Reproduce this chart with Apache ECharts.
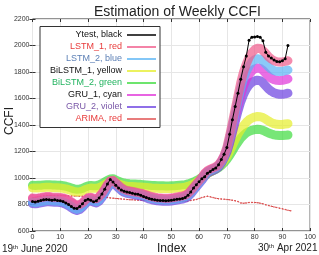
<!DOCTYPE html>
<html><head><meta charset="utf-8">
<script src="https://cdn.jsdelivr.net/npm/echarts@6/dist/echarts.min.js"></script>
<style>html,body{margin:0;padding:0;background:#fff}#c{width:319px;height:255px}</style>
</head><body><div id="c"></div>
<script>
const xTicks = [0,10,20,30,40,50,60,70,80,90,100];
const yTicks = [600,800,1000,1200,1400,1600,1800,2000,2200];

const ytest = [822,818,825,830,835,838,836,832,835,830,
828,822,812,800,785,772,770,785,805,830,
840,832,820,828,850,880,915,955,988,970,
945,925,910,900,895,890,885,880,878,870,
860,852,845,840,835,832,830,830,828,830,
832,835,840,842,845,852,870,895,925,950,
972,995,1010,1035,1050,1065,1075,1100,1140,1180,
1230,1330,1440,1540,1640,1745,1840,1920,2040,2062,
2065,2068,2062,2035,1950,1920,1905,1890,1880,1878,
1885,1900,2000];

const lstm1 = [850,848,850,853,857,860,860,857,855,855,853,
850,843,833,820,806,796,800,813,834,852,
855,847,845,860,884,916,950,978,982,965,
945,927,914,906,902,898,894,890,886,880,
873,865,860,855,851,850,848,847,847,850,
853,857,861,865,871,883,905,930,955,980,
1005,1035,1055,1067,1075,1085,1100,1130,1170,
1230,1320,1420,1520,1620,1720,1800,1860,1910,1945,
1968,1980,1978,1962,1940,1915,1898,1885,1878,1875,
1876,1880,1885];

const lstm2 = [818,815,818,822,826,830,831,829,827,826,824,
820,812,800,786,772,765,772,790,815,832,
836,828,822,835,862,895,932,962,970,955,
935,915,902,894,890,886,882,878,874,868,
860,852,846,842,838,836,835,834,834,836,
839,843,847,851,857,869,890,916,942,967,
993,1022,1044,1057,1066,1076,1092,1120,1160,
1220,1300,1395,1490,1585,1675,1750,1805,1845,1875,
1892,1900,1897,1882,1860,1838,1822,1810,1805,1803,
1805,1810,1815];

const bilstm1 = [925,924,925,926,928,930,930,928,927,926,925,
922,918,912,905,898,895,896,902,912,920,
924,922,922,928,938,950,962,972,975,965,
955,948,942,938,936,935,934,933,932,930,
928,926,924,923,922,921,921,920,920,921,
922,924,926,928,931,937,945,955,968,982,
998,1015,1032,1045,1057,1070,1086,1105,1130,1160,
1200,1245,1290,1330,1365,1395,1420,1440,1452,1460,
1464,1463,1456,1444,1430,1418,1410,1405,1403,1404,
1407,1410];

const bilstm2 = [945,944,945,946,948,950,950,948,947,946,945,
942,938,932,925,918,915,916,922,932,940,
944,942,942,948,958,970,982,992,995,985,
975,968,962,958,956,955,954,953,952,950,
948,946,944,943,942,941,941,940,940,941,
942,944,946,948,950,955,962,970,980,992,
1005,1020,1035,1045,1055,1065,1078,1095,1115,1140,
1170,1205,1240,1270,1300,1322,1340,1352,1360,1365,
1368,1366,1360,1350,1340,1332,1326,1322,1320,1320,
1322,1325];

const gru1 = [845,842,845,848,852,855,855,852,850,850,848,
845,838,828,815,800,790,795,808,830,848,
850,842,840,855,880,912,948,975,978,960,
940,922,910,902,898,894,890,886,882,875,
868,860,855,850,846,845,843,842,842,845,
848,852,856,860,866,878,900,925,950,975,
1000,1030,1050,1062,1070,1080,1095,1125,1165,
1210,1285,1375,1465,1550,1630,1695,1745,1782,1808,
1823,1830,1827,1812,1790,1768,1752,1742,1737,1735,
1737,1742,1748];

const gru2 = [808,805,808,812,816,820,821,819,817,816,814,
810,802,790,776,762,755,762,780,805,822,
826,818,812,825,852,885,922,952,960,945,
925,905,892,884,880,876,872,868,864,858,
850,842,836,832,828,826,825,824,824,826,
829,833,837,841,847,859,880,906,932,957,
983,1012,1034,1047,1056,1066,1082,1110,1150,
1195,1265,1345,1425,1505,1575,1630,1672,1702,1722,
1733,1738,1735,1718,1695,1672,1655,1643,1636,1632,
1632,1635,1640];

const arima = [850,854,858,862,865,867,868,868,868,867,867,
866,866,865,865,864,864,863,863,862,862,
861,860,859,858,856,854,852,850,848,846,
844,842,840,838,836,835,834,833,832,831,
830,829,828,827,826,825,824,823,822,822,
821,821,822,823,825,827,830,834,838,845,
852,858,862,858,852,847,844,841,840,838,
835,832,828,822,812,810,812,815,816,815,
814,810,805,798,792,787,782,777,772,767,
762,756,752];

const names = ['Ytest, black','LSTM_1, red','LSTM_2, blue','BiLSTM_1, yellow','BiLSTM_2, green','GRU_1, cyan','GRU_2, violet','ARIMA, red'];
const legendTextColors = ['#111','#e83a3a','#5b7fb5','#111','#22b35f','#111','#7a58a8','#e83a3a'];

const toXY = a => a.map((v,i)=>[i,v]);
const band = (name, data, color, z, w) => ({
  name, type:'line', data: toXY(data), color, z,
  symbol:'none', smooth:false,
  lineStyle:{width:w, opacity:0.7, color, cap:'round', join:'round'}
});

const chart = echarts.init(document.getElementById('c'), null, {renderer:'canvas'});
const labelFont = {fontSize:7, color:'#333', fontFamily:'Liberation Sans, Arial, sans-serif'};
const plain = v => String(v);
chart.setOption({
  animation:false,
  backgroundColor:'#fff',
  title:{text:'Estimation of Weekly CCFI', left:172.5, textAlign:'center', top:0,
    textStyle:{fontSize:14, fontWeight:'normal', color:'#222', fontFamily:'Liberation Sans, Arial, sans-serif'}},
  grid:{left:32.5, right:6.5, top:19, bottom:24, show:true, borderColor:'#262626', borderWidth:1, backgroundColor:'#fff'},
  xAxis:[{type:'value', min:0, max:100, interval:10,
    axisLine:{show:false}, axisTick:{show:true, inside:true, length:3, lineStyle:{color:'#333'}},
    axisLabel:Object.assign({margin:3, formatter:plain}, labelFont),
    splitLine:{show:true, lineStyle:{color:'#e6e6e6', width:1}}},
    {type:'value', position:'top', min:0, max:100, interval:10,
    axisLine:{show:false}, axisTick:{show:true, inside:true, length:3, lineStyle:{color:'#333'}},
    axisLabel:{show:false}, splitLine:{show:false}}],
  yAxis:[{type:'value', min:600, max:2200, interval:200,
    axisLine:{show:false}, axisTick:{show:true, inside:true, length:3, lineStyle:{color:'#333'}},
    axisLabel:Object.assign({margin:3, formatter:plain}, labelFont),
    splitLine:{show:true, lineStyle:{color:'#e6e6e6', width:1}}},
    {type:'value', position:'right', min:600, max:2200, interval:200,
    axisLine:{show:false}, axisTick:{show:true, inside:true, length:3, lineStyle:{color:'#333'}},
    axisLabel:{show:false}, splitLine:{show:false}}],
  legend:{orient:'vertical', left:40, top:26.5, align:'right', itemWidth:29, itemHeight:1.5, itemGap:1,
    icon:'rect', backgroundColor:'#fff', borderColor:'#333', borderWidth:1, padding:[3,4,3,4], borderRadius:0,
    textStyle:{fontSize:9, width:78, lineHeight:11, fontFamily:'Liberation Sans, Arial, sans-serif'},
    data: names.map((n,i)=>({name:n, textStyle:{color:legendTextColors[i]}}))},
  graphic:[
    {type:'text', left:4, top:107, rotation:Math.PI/2, style:{text:'CCFI', fontSize:12, fill:'#222', fontFamily:'Liberation Sans, Arial, sans-serif'}},
    {type:'text', left:157, top:243, style:{text:'Index', fontSize:12, fill:'#222', fontFamily:'Liberation Sans, Arial, sans-serif'}},
    {type:'text', left:2, top:244, style:{rich:{a:{fontSize:10, fill:'#222'}, s:{fontSize:6, fill:'#222', padding:[0,0,5,0]}}, text:'{a|19}{s|th}{a| June 2020}', fontFamily:'Liberation Sans, Arial, sans-serif'}},
    {type:'text', left:258, top:243, style:{rich:{a:{fontSize:10, fill:'#222'}, s:{fontSize:6, fill:'#222', padding:[0,0,5,0]}}, text:'{a|30}{s|th}{a| Apr 2021}', fontFamily:'Liberation Sans, Arial, sans-serif'}}
  ],
  series:[
    {name:names[7], type:'line', data:toXY(arima), color:'#e05050', z:2, symbol:'circle', symbolSize:1.5,
      lineStyle:{width:1, type:[2,1.5], color:'#d04848'}},
    band(names[4], bilstm2, '#3ddc3d', 3, 9),
    band(names[3], bilstm1, '#e6ee2a', 3, 9),
    band(names[6], gru2, '#6a3fe0', 4, 9),
    band(names[5], gru1, '#e030d8', 4, 9),
    band(names[2], lstm2, '#5ab4f5', 4, 9),
    band(names[1], lstm1, '#f05a8a', 4, 9),
    {name:names[0], type:'line', data:toXY(ytest), color:'#000', z:10, symbol:'circle', symbolSize:3,
      itemStyle:{color:'#000'}, lineStyle:{width:1, color:'#000'}}
  ]
});
</script></body></html>
